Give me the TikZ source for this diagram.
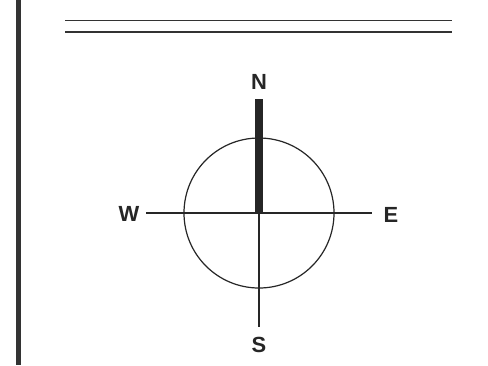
\documentclass[tikz,border=0pt]{standalone}
\usepackage{fontspec}
\setmainfont{Liberation Sans}
\begin{document}
\begin{tikzpicture}[x=1bp,y=-1bp,
  thinline/.style={line width=1.2bp,draw=black!85},
  rule/.style={line width=1.8bp,draw=black!80},
  lbl/.style={font=\fontsize{22}{22}\selectfont\bfseries,text=black!85,inner sep=0pt}]
\useasboundingbox (0,0) rectangle (488,365);
\fill[white] (0,0) rectangle (488,365);
% left border
\draw[line width=5bp,draw=black!80] (18,0) -- (18,365);
% top double rule
\coordinate (r1a) at (65,20.5);
\coordinate (r1b) at (452,20.5);
\coordinate (r2a) at (65,32);
\coordinate (r2b) at (452,32);
\draw[rule] (r1a) -- (r1b);
\draw[rule] (r2a) -- (r2b);
% compass
\coordinate (c) at (259,213);
\coordinate (wend) at (146,213);
\coordinate (eend) at (372,213);
\coordinate (send) at (259,327);
\coordinate (ntop) at (259,99);
\draw[thinline] (c) circle (75);
\draw[thinline] (wend) -- (eend);
\draw[thinline] (c) -- (send);
\draw[line width=8bp,draw=black!85] (ntop) -- (c);
\node[lbl] (N) at (259,82) {N};
\node[lbl] (W) at (129,214) {W};
\node[lbl] (E) at (391,215) {E};
\node[lbl] (S) at (259,345) {S};
\end{tikzpicture}
\end{document}
